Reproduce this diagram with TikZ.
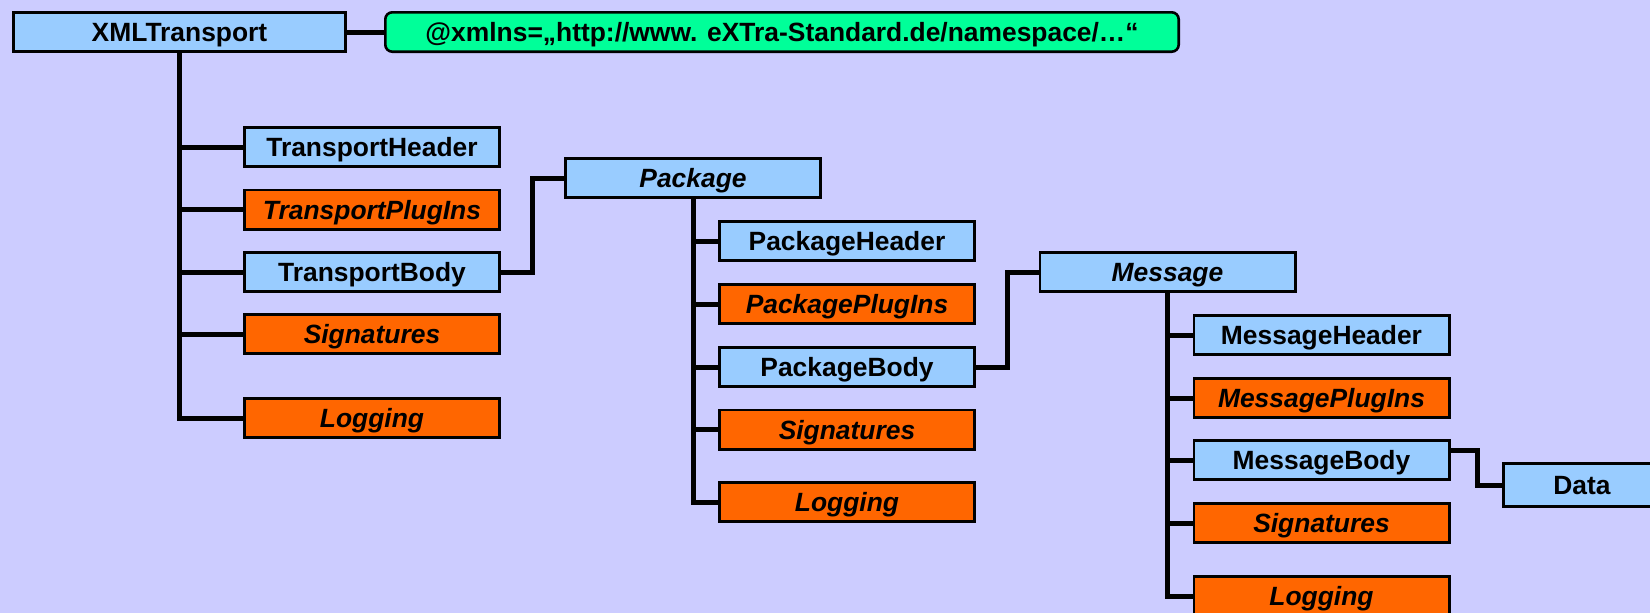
\documentclass[tikz,border=0pt]{standalone}
\usepackage{fontspec}
\setmainfont{Liberation Sans}
\usetikzlibrary{calc}
\definecolor{bgc}{HTML}{CCCCFF}
\definecolor{lblue}{HTML}{99CCFF}
\definecolor{orng}{HTML}{FF6600}
\definecolor{grn}{HTML}{00FF99}
\begin{document}
\begin{tikzpicture}[x=1pt,y=-1pt,
  box/.style={draw=black, line width=2.6pt, minimum width=255.4pt, minimum height=39.4pt,
    inner sep=0pt, text height=19pt, text depth=0pt,
    font=\fontsize{26.4}{30}\selectfont\bfseries},
  bluebox/.style={box, fill=lblue},
  bluei/.style={box, fill=lblue, font=\fontsize{26.4}{30}\selectfont\bfseries\itshape},
  orbox/.style={box, fill=orng, font=\fontsize{26.4}{30}\selectfont\bfseries\itshape},
  conn/.style={draw=black, line width=5pt, line join=miter, line cap=butt}]
\clip (0,0) rectangle (1650,613);
\fill[bgc] (0,0) rectangle (1650,613);

% top row
\node[bluebox, minimum width=332.4pt] (xml) at (179.5,32) {XMLTransport};
\node[box, fill=grn, rounded corners=7pt, minimum width=793.4pt] (ns) at (782,32)
  {@xmlns=„http://www. eXTra-Standard.de/namespace/…“};

% transport level
\node[bluebox] (th) at (372,147) {TransportHeader};
\node[orbox]   (tp) at (372,209.5) {TransportPlugIns};
\node[bluebox] (tb) at (372,272) {TransportBody};
\node[orbox]   (ts) at (372,334) {Signatures};
\node[orbox]   (tl) at (372,418) {Logging};

% package level
\node[bluei]   (pk) at (693,178) {Package};
\node[bluebox] (ph) at (847,241) {PackageHeader};
\node[orbox]   (pp) at (847,304) {PackagePlugIns};
\node[bluebox] (pb) at (847,367) {PackageBody};
\node[orbox]   (ps) at (847,429.5) {Signatures};
\node[orbox]   (pl) at (847,502) {Logging};

% message level
\node[bluei]   (ms) at (1167.5,272) {Message};
\node[bluebox] (mh) at (1321.5,335) {MessageHeader};
\node[orbox]   (mp) at (1321.5,398) {MessagePlugIns};
\node[bluebox] (mb) at (1321.5,460) {MessageBody};
\node[orbox]   (mg) at (1321.5,523) {Signatures};
\node[orbox]   (ml) at (1321.5,596) {Logging};

% data
\node[bluebox, minimum width=157.4pt, minimum height=43.4pt] (data) at (1582,485) {Data};

% connectors
\draw[conn] (xml.east) -- (ns.west);

\draw[conn] (xml.south) |- (tl.west);
\foreach \c in {th,tp,tb,ts} \draw[conn] (xml.south |- \c.west) -- (\c.west);

\draw[conn] (tb.east) -- ++(31,0) |- (pk.west);

\draw[conn] (pk.south) |- (pl.west);
\foreach \c in {ph,pp,pb,ps} \draw[conn] (pk.south |- \c.west) -- (\c.west);

\draw[conn] (pb.east) -- ++(31,0) |- (ms.west);

\draw[conn] (ms.south) |- (ml.west);
\foreach \c in {mh,mp,mb,mg} \draw[conn] (ms.south |- \c.west) -- (\c.west);

\draw[conn] ([yshift=10pt]mb.east) -- ++(27,0) |- (data.west);
\end{tikzpicture}
\end{document}
